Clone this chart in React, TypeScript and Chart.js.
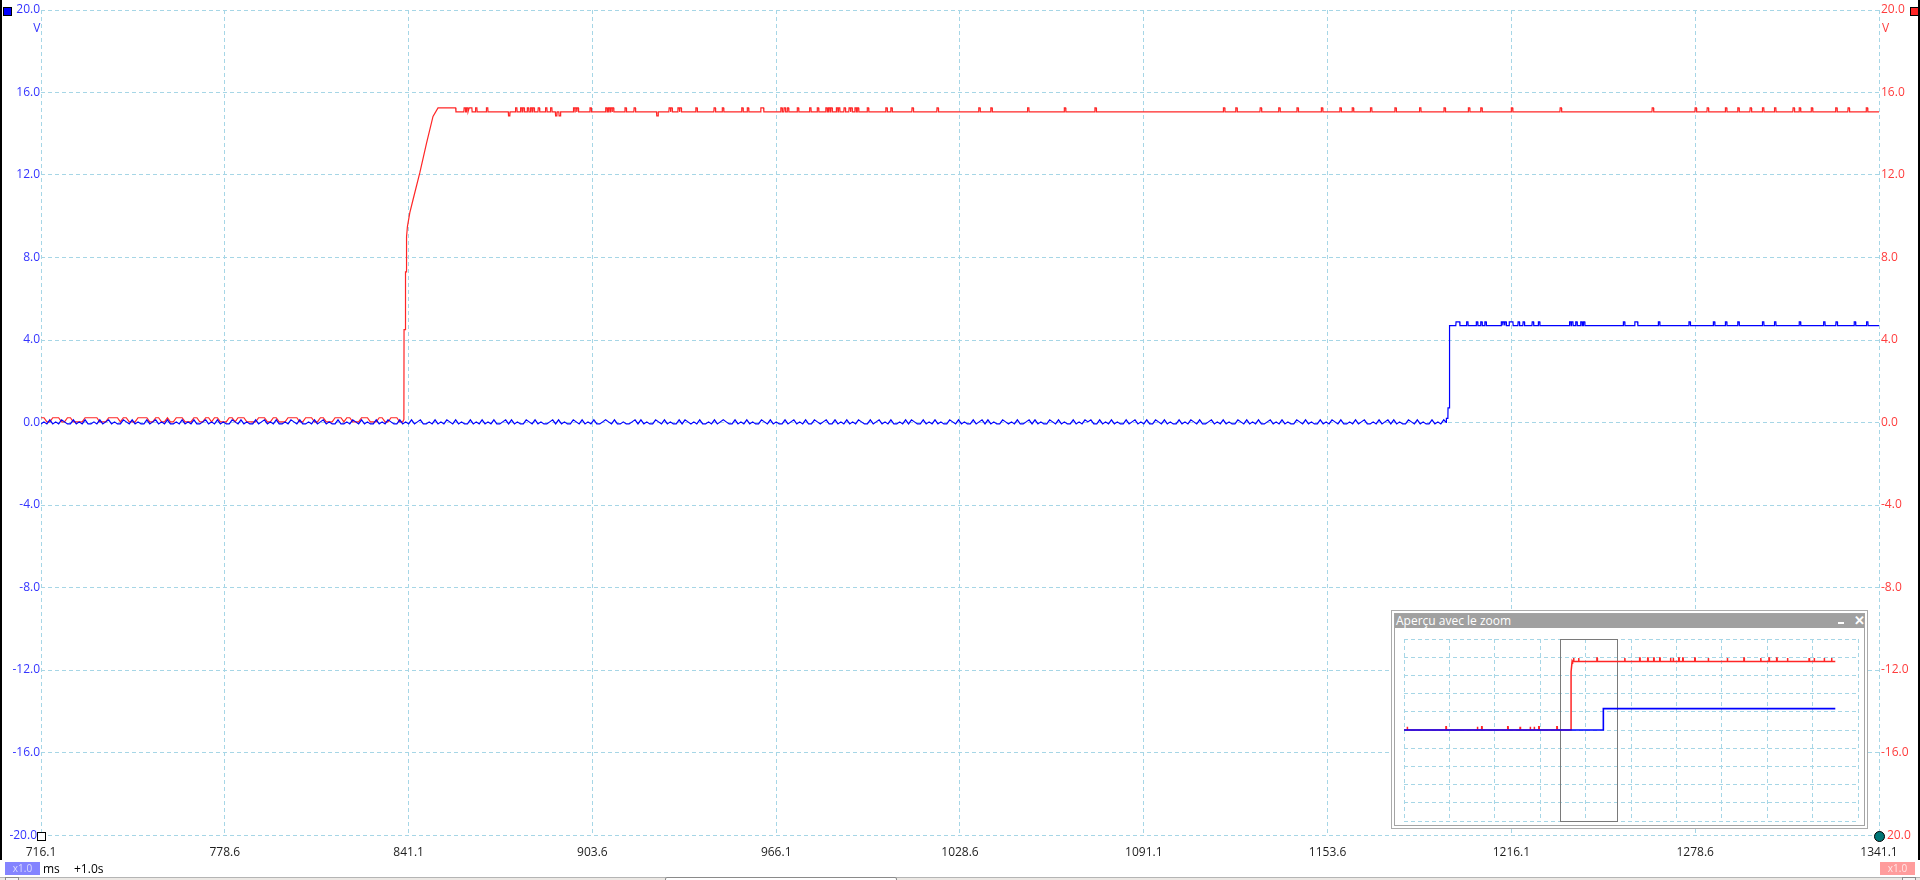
import React, { useEffect, useRef } from 'react';
import { Chart, registerables } from 'chart.js';
Chart.register(...registerables);

// ---------- axes ----------
const X_MIN = 716.1;
const X_MAX = 1341.1;
const X_TICKS = [716.1, 778.6, 841.1, 903.6, 966.1, 1028.6, 1091.1, 1153.6, 1216.1, 1278.6, 1341.1];
const Y_TICKS = [-20, -16, -12, -8, -4, 0, 4, 8, 12, 16, 20];
const UNIT = 'V';
const TIME_UNIT = 'ms';
const TIME_OFFSET = '+1.0s';
const ZOOM_FACTOR = 'x1.0';

// ---------- channel A (red) ----------
const SAMPLE_MS = 1.0;
const RED_LOW_LEVELS = [0.03, 0.13, 0.23];
const RED_LOW_CODES =
  '22002220022000022222000222202200022220022002002220' +
  '00220022022000220222000022200220002222002220022000' +
  '22202200022200022002220002222';
const RED_RISE_T = [839.5, 839.55, 840.0, 840.05, 840.35, 840.4, 840.7, 841.5, 842.6, 844.9, 847.2, 849.4, 851.1, 857.1];
const RED_RISE_V = [0.15, 4.5, 4.5, 7.3, 7.3, 9.0, 9.5, 10.16, 10.8, 12.1, 13.55, 14.84, 15.25, 15.25];
const RED_HIGH_BASE = 15.06;
const RED_PEAK = 15.25;
const RED_DIP = 14.87;
const RED_SPIKES = [
  860.2, 861.0, 861.9, 862.4, 864.1, 867.8, 877.7, 879.4, 880.2, 881.7, 882.8, 883.6, 885.4, 887.9, 889.6,
  897.4, 898.0, 898.6, 903.0, 908.35, 909.25, 910.05, 910.6, 914.9, 918.0, 929.9, 930.5, 932.9, 933.6, 939.0,
  945.2, 948.0, 954.6, 956.5, 961.1, 961.6, 967.9, 969.0, 970.1, 973.5, 977.7, 980.3, 983.2, 984.1, 984.9,
  986.8, 987.5, 989.4, 991.1, 991.7, 993.1, 993.9, 997.3, 1003.6, 1005.3, 1012.5, 1021.0, 1035.2, 1039.3,
  1051.8, 1064.3, 1074.7, 1118.4, 1122.6, 1130.9, 1137.2, 1143.4, 1151.7, 1158.0, 1162.2, 1168.4, 1176.7,
  1185.1, 1193.4, 1201.7, 1205.9, 1216.3, 1232.9, 1264.2, 1278.8, 1282.9, 1289.1, 1293.3, 1297.5, 1301.7,
  1305.8, 1312.1, 1314.2, 1318.3, 1326.6, 1330.8, 1337.0,
];
const RED_DIPS = [875.3, 891.3, 892.5, 925.7];

// ---------- channel B (blue) ----------
const BLUE_LOW_LEVELS = [-0.07, 0.03, 0.13];
const BLUE_LOW_CODES =
  '01020102100201020010201201002102010020120102001020' +
  '10200120102010021020100201201020010210200102012010' +
  '02001021020100201021002010201200102010210201002010' +
  '20102001202010021020100120201002102010200121020010' +
  '01202010021020100202101020010201210020102010021020' +
  '10020120102002101200201020102100201201020010202100' +
  '20102010021020100201202010021010200120201002102010' +
  '02010212002010201002012010200210201002010210200120' +
  '10201002102010200120102010021020100201021020010201' +
  '20010201202010021020100201020102100201020120100210';
const BLUE_RISE_T = [1193.9, 1194.0, 1194.5, 1194.55, 1194.9, 1194.95, 1195.1, 1195.15];
const BLUE_RISE_V = [0.0, 0.2, 0.2, 0.71, 0.71, 1.22, 1.22, 4.7];
const BLUE_HIGH_BASE = 4.7;
const BLUE_PEAK = 4.88;
const BLUE_SPIKES = [
  1197.5, 1197.9, 1198.3, 1201.1, 1204.4, 1205.9, 1207.3, 1212.9, 1213.5, 1214.1, 1215.6, 1216.0, 1216.4,
  1218.6, 1220.3, 1223.4, 1225.5, 1236.1, 1236.8, 1238.2, 1239.9, 1240.8, 1254.4, 1258.3, 1258.8, 1266.3,
  1276.7, 1285.0, 1289.1, 1293.3, 1301.7, 1305.8, 1314.2, 1322.5, 1326.7, 1332.9, 1337.1,
];

// ---------- overview (inset) ----------
const INSET_X_MIN = -1000;
const INSET_X_MAX = 4000;
const INSET_X_TICKS = [-1000, -500, 0, 500, 1000, 1500, 2000, 2500, 3000, 3500, 4000];
const INSET_END = 3750;
const INSET_RED_RISE_T = [839.5, 840.5, 852, 856];
const INSET_RED_RISE_V = [0, 12.8, 15.2, 15.06];
const INSET_RED_LOW_TICKS = [-963.5, -536, -190.7, -142.5, 144.3, 280.4, 390.8, 435, 486.5, 685.3];
const INSET_RED_HIGH_TICKS = [
  868.8, 924, 1126.7, 1431.9, 1597.6, 1685.9, 1752.1, 1818.4, 1936, 1965.7, 2027.8, 2071.9, 2204.4, 2352,
  2561.7, 2745.3, 2929.5, 3021.3, 3106.1, 3224.3, 3463.3, 3518.5, 3628.9, 3709.8,
];
const INSET_LOW_TICK_V = 0.7;
const INSET_HIGH_TICK_V = 15.8;
const INSET_BLUE_T = [-1000, 1194.5, 1195.5, INSET_END];
const INSET_BLUE_V = [0, 0, 4.7, 4.7];
const INSET_TITLE = 'Aperçu avec le zoom';

// ---------- helpers ----------
type P = { x: number; y: number };

function lowSegment(codes: string, levels: number[], t0: number, tEnd: number): P[] {
  const pts: P[] = [];
  for (let i = 0; i < codes.length; i++) {
    const t = t0 + i * SAMPLE_MS;
    if (t >= tEnd) break;
    pts.push({ x: t, y: levels[Number(codes[i])] });
  }
  return pts;
}

function zipPts(ts: number[], vs: number[]): P[] {
  return ts.map((t, i) => ({ x: t, y: vs[i] }));
}

function plateau(start: number, end: number, base: number, events: [number, number][], hw: number, edge: number): P[] {
  const pts: P[] = [{ x: start, y: base }];
  const sorted = events.slice().sort((a, b) => a[0] - b[0]);
  for (const [t, v] of sorted) {
    const last = pts[pts.length - 1];
    if (last.x > t - hw) {
      if (pts.length > 1) pts.pop();
    } else if (last.x < t - edge) {
      pts.push({ x: t - edge, y: base });
    }
    pts.push({ x: t - hw, y: v }, { x: t + hw, y: v }, { x: t + edge, y: base });
  }
  pts.push({ x: end, y: base });
  return pts;
}

function buildRed(): P[] {
  const low = lowSegment(RED_LOW_CODES, RED_LOW_LEVELS, X_MIN, RED_RISE_T[0]);
  const rise = zipPts(RED_RISE_T, RED_RISE_V);
  const ev: [number, number][] = [
    ...RED_SPIKES.map((t) => [t, RED_PEAK] as [number, number]),
    ...RED_DIPS.map((t) => [t, RED_DIP] as [number, number]),
  ];
  const high = plateau(RED_RISE_T[RED_RISE_T.length - 1] + 0.1, X_MAX, RED_HIGH_BASE, ev, 0.22, 0.3);
  return [...low, ...rise, ...high];
}

function buildBlue(): P[] {
  const low = lowSegment(BLUE_LOW_CODES, BLUE_LOW_LEVELS, X_MIN, BLUE_RISE_T[0]);
  const rise = zipPts(BLUE_RISE_T, BLUE_RISE_V);
  const ev = BLUE_SPIKES.map((t) => [t, BLUE_PEAK] as [number, number]);
  const high = plateau(BLUE_RISE_T[BLUE_RISE_T.length - 1] + 0.1, X_MAX, BLUE_HIGH_BASE, ev, 0.22, 0.3);
  return [...low, ...rise, ...high];
}

function buildInsetRed(): P[] {
  const low = plateau(INSET_X_MIN, INSET_RED_RISE_T[0], 0, INSET_RED_LOW_TICKS.map((t) => [t, INSET_LOW_TICK_V] as [number, number]), 2, 3);
  const rise = zipPts(INSET_RED_RISE_T, INSET_RED_RISE_V);
  const high = plateau(INSET_RED_RISE_T[INSET_RED_RISE_T.length - 1] + 1, INSET_END, 15.06, INSET_RED_HIGH_TICKS.map((t) => [t, INSET_HIGH_TICK_V] as [number, number]), 2, 3);
  return [...low, ...rise, ...high];
}

const FONT = "'Open Sans', 'Noto Sans', sans-serif";
const GRID = '#a6d6e6';
const RED = '#ff2626';
const BLUE = '#0000ff';
const LEFT_LABEL = '#3434ff';
const RIGHT_LABEL = '#ff3c3c';

export default function App() {
  const mainRef = useRef<HTMLCanvasElement>(null);
  const insetRef = useRef<HTMLCanvasElement>(null);

  useEffect(() => {
    const main = new Chart(mainRef.current!, {
      type: 'line',
      data: {
        datasets: [
          { label: 'B', data: buildBlue(), borderColor: BLUE, borderWidth: 1.2, pointRadius: 0, tension: 0, yAxisID: 'y' },
          { label: 'A', data: buildRed(), borderColor: RED, borderWidth: 1.2, pointRadius: 0, tension: 0, yAxisID: 'y' },
        ],
      },
      options: {
        animation: false,
        responsive: false,
        events: [],
        parsing: false,
        normalized: true,
        layout: { padding: { top: 10, left: 0, right: 0, bottom: 0 } },
        plugins: { legend: { display: false }, tooltip: { enabled: false } },
        scales: {
          x: {
            type: 'linear',
            min: X_MIN,
            max: X_MAX,
            afterBuildTicks: (s: any) => { s.ticks = X_TICKS.map((v) => ({ value: v })); },
            afterFit: (s: any) => { s.height = 45; },
            grid: { color: GRID, lineWidth: 1, drawTicks: false },
            border: { display: false, dash: [4, 3] },
            ticks: {
              padding: 10, color: '#1e1e1e', autoSkip: false, maxRotation: 0,
              font: { family: FONT, size: 12 },
              callback: (v: any) => Number(v).toFixed(1),
            },
          },
          y: {
            type: 'linear',
            position: 'left',
            min: Y_TICKS[0],
            max: Y_TICKS[Y_TICKS.length - 1],
            afterBuildTicks: (s: any) => { s.ticks = Y_TICKS.map((v) => ({ value: v })); },
            afterFit: (s: any) => { s.width = 41; },
            grid: { color: GRID, lineWidth: 1, drawTicks: false },
            border: { display: false, dash: [4, 3] },
            ticks: {
              padding: 1, color: LEFT_LABEL, font: { family: FONT, size: 12 },
              callback: (v: any) => (Number(v) === Y_TICKS[0] ? '' : Number(v).toFixed(1)),
            },
          },
          y2: {
            type: 'linear',
            position: 'right',
            min: Y_TICKS[0],
            max: Y_TICKS[Y_TICKS.length - 1],
            afterBuildTicks: (s: any) => { s.ticks = Y_TICKS.map((v) => ({ value: v })); },
            afterFit: (s: any) => { s.width = 41; },
            grid: { drawOnChartArea: false, drawTicks: false },
            border: { display: false },
            ticks: {
              padding: 2, color: RIGHT_LABEL, font: { family: FONT, size: 12 },
              callback: (v: any) => (Number(v) === Y_TICKS[0] ? '' : Number(v).toFixed(1)),
            },
          },
        },
      },
    } as any);

    const zoomRect = {
      id: 'zoomRect',
      beforeDatasetsDraw(chart: any) {
        const xs = chart.scales.x;
        const area = chart.chartArea;
        const x0 = Math.round(xs.getPixelForValue(X_MIN)) + 0.5;
        const x1 = Math.round(xs.getPixelForValue(X_MAX)) + 0.5;
        const ctx = chart.ctx;
        ctx.save();
        ctx.strokeStyle = '#7a7a7a';
        ctx.lineWidth = 1;
        ctx.strokeRect(x0, Math.round(area.top) + 0.5, x1 - x0, Math.round(area.bottom - area.top));
        ctx.restore();
      },
    };

    const inset = new Chart(insetRef.current!, {
      type: 'line',
      data: {
        datasets: [
          { label: 'B', data: zipPts(INSET_BLUE_T, INSET_BLUE_V), borderColor: BLUE, borderWidth: 1.6, pointRadius: 0, tension: 0 },
          { label: 'A', data: buildInsetRed(), borderColor: RED, borderWidth: 1.5, pointRadius: 0, tension: 0 },
        ],
      },
      options: {
        animation: false,
        responsive: false,
        events: [],
        parsing: false,
        layout: { padding: 5 },
        plugins: { legend: { display: false }, tooltip: { enabled: false } },
        scales: {
          x: {
            type: 'linear', min: INSET_X_MIN, max: INSET_X_MAX,
            afterBuildTicks: (s: any) => { s.ticks = INSET_X_TICKS.map((v) => ({ value: v })); },
            afterFit: (s: any) => { s.height = 0; },
            grid: { color: GRID, drawTicks: false },
            border: { display: false, dash: [4, 3] },
            ticks: { display: false },
          },
          y: {
            type: 'linear', min: Y_TICKS[0], max: Y_TICKS[Y_TICKS.length - 1],
            afterBuildTicks: (s: any) => { s.ticks = Y_TICKS.map((v) => ({ value: v })); },
            afterFit: (s: any) => { s.width = 0; },
            grid: { color: GRID, drawTicks: false },
            border: { display: false, dash: [4, 3] },
            ticks: { display: false },
          },
        },
      },
      plugins: [zoomRect],
    } as any);

    return () => {
      main.destroy();
      inset.destroy();
    };
  }, []);

  const abs = (s: React.CSSProperties): React.CSSProperties => ({ position: 'absolute', ...s });
  const txt: React.CSSProperties = { fontFamily: FONT, fontSize: 12, lineHeight: '14px', whiteSpace: 'nowrap' };

  return (
    <div style={{ position: 'fixed', left: 0, top: 0, width: 1920, height: 880, background: '#fff', overflow: 'hidden' }}>
      <canvas ref={mainRef} width={1920} height={880} style={abs({ left: 0, top: 0, width: 1920, height: 880 })} />

      {/* edge bars */}
      <div style={abs({ left: 0, top: 0, width: 2, height: 860, background: '#000' })} />
      <div style={abs({ left: 1918, top: 0, width: 2, height: 860, background: '#000' })} />

      {/* channel markers */}
      <div style={abs({ left: 3, top: 7, width: 7, height: 7, background: BLUE, border: '1px solid #000' })} />
      <div style={abs({ left: 1910, top: 7, width: 7, height: 7, background: RED, border: '1px solid #000' })} />

      {/* units */}
      <div style={abs({ ...txt, left: 0, top: 21, width: 40.5, textAlign: 'right', color: LEFT_LABEL })}>{UNIT}</div>
      <div style={abs({ ...txt, left: 1882, top: 21, color: RIGHT_LABEL })}>{UNIT}</div>

      {/* bottom tick labels shifted by the markers */}
      <div style={abs({ ...txt, left: 0, top: 828, width: 37, textAlign: 'right', color: LEFT_LABEL })}>{Y_TICKS[0].toFixed(1)}</div>
      <div style={abs({ ...txt, left: 1887, top: 828, color: RIGHT_LABEL })}>{Math.abs(Y_TICKS[0]).toFixed(1)}</div>
      <div style={abs({ left: 37, top: 832, width: 7, height: 7, background: '#fff', border: '1px solid #000' })} />
      <div style={abs({ left: 1874, top: 831, width: 9, height: 9, background: '#007676', border: '1px solid #000', borderRadius: '50%' })} />

      {/* bottom bar */}
      <div style={abs({ left: 5, top: 862, width: 35, height: 13, background: '#8484ff', color: '#dcdcff', fontFamily: FONT, fontSize: 10, lineHeight: '13px', textAlign: 'center' })}>{ZOOM_FACTOR}</div>
      <div style={abs({ ...txt, left: 43, top: 862, color: '#000' })}>{TIME_UNIT}</div>
      <div style={abs({ ...txt, left: 74, top: 862, color: '#000' })}>{TIME_OFFSET}</div>
      <div style={abs({ left: 1880, top: 862, width: 35, height: 13, background: '#ff9c9c', color: '#ffe6e6', fontFamily: FONT, fontSize: 10, lineHeight: '13px', textAlign: 'center' })}>{ZOOM_FACTOR}</div>

      {/* scrollbar */}
      <div style={abs({ left: 0, top: 877, width: 1920, height: 3, background: '#ece9e5', borderTop: '1px solid #b4b4b4' })} />
      <div style={abs({ left: 5, top: 877, width: 12, height: 6, background: '#f4f4f4', border: '1px solid #8c8c8c' })} />
      <div style={abs({ left: 665, top: 877, width: 230, height: 6, background: '#fff', border: '1px solid #8a8a8a', borderRadius: 2 })} />
      <div style={abs({ left: 1902, top: 877, width: 12, height: 6, background: '#f4f4f4', border: '1px solid #8c8c8c' })} />

      {/* overview window */}
      <div style={abs({ left: 1391, top: 610, width: 475, height: 217, background: '#fff', border: '1px solid #ababab' })} />
      <div style={abs({ left: 1394, top: 613, width: 469, height: 211, background: '#fff', border: '1px solid #a4a4a4' })} />
      <div style={abs({ left: 1395, top: 614, width: 469, height: 14, background: '#a0a0a0' })} />
      <div style={abs({ ...txt, left: 1396, top: 613, lineHeight: '16px', color: '#fff' })}>{INSET_TITLE}</div>
      <div style={abs({ left: 1838, top: 622, width: 6, height: 2, background: '#fff' })} />
      <div style={abs({ left: 1854, top: 612, fontFamily: FONT, fontSize: 13, fontWeight: 700, lineHeight: '16px', color: '#fff' })}>✕</div>
      <canvas ref={insetRef} width={464} height={192} style={abs({ left: 1399, top: 634, width: 464, height: 192 })} />
    </div>
  );
}
